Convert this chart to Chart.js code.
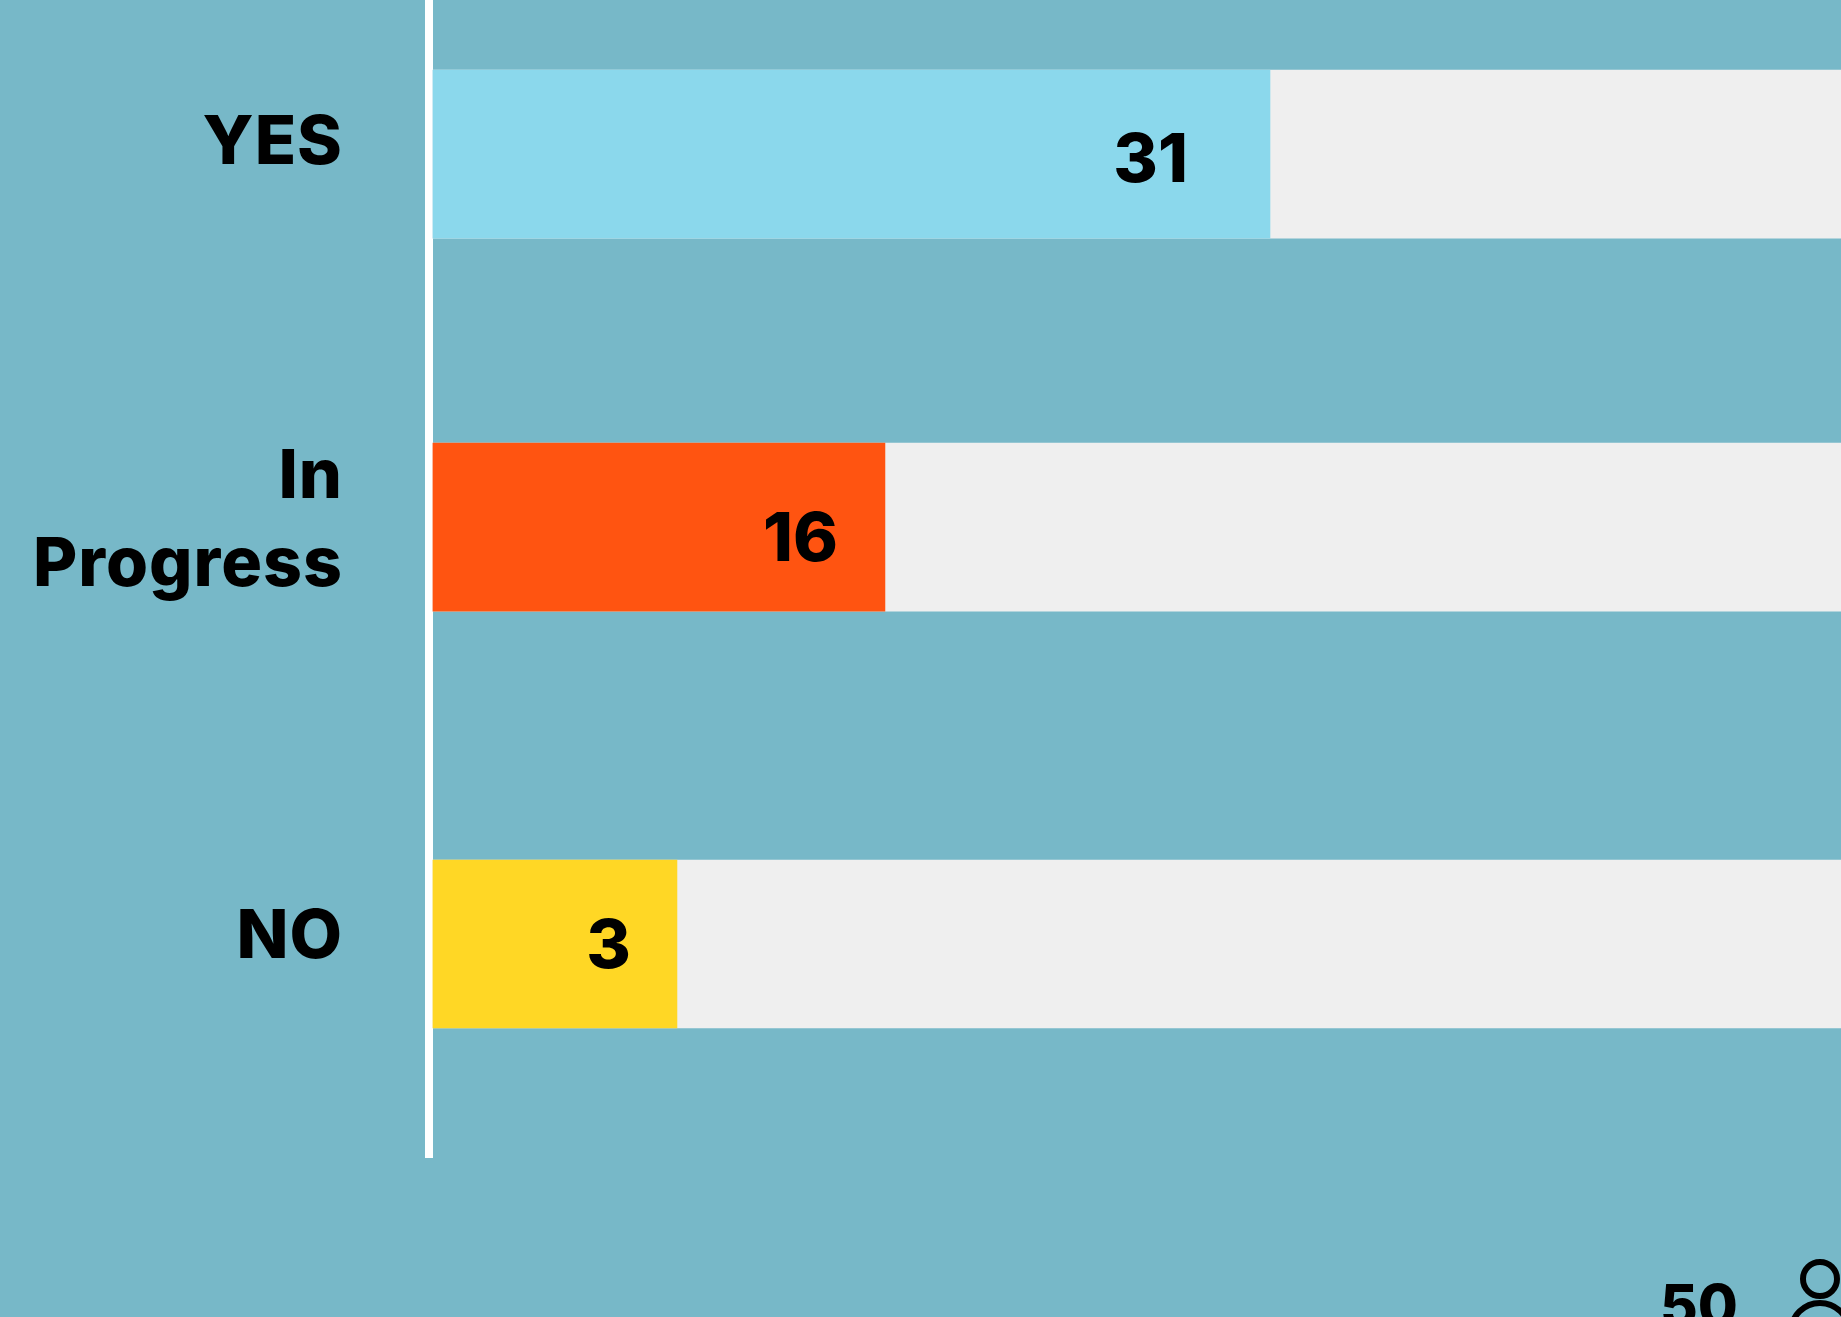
<!DOCTYPE html>
<html>
<head>
<meta charset="utf-8">
<title>Survey answers</title>
<script src="https://cdn.jsdelivr.net/npm/chart.js@4/dist/chart.umd.js"></script>
<style>
  body { margin: 0; background: #77b8c8; overflow: hidden; }
  canvas { display: block; }
</style>
</head>
<body>
<canvas id="myChart" width="1841" height="1317"></canvas>
<script>
const categories = ['YES', ['In', 'Progress'], 'NO'];
const answers = [31, 16, 3];
const total = 50;
const barColors = ['#8bd8ec', '#ff5411', '#ffd725'];
// the rows are not evenly spaced in the original
const rowPositions = [0.421, 1.44, 2.579];
const tickPositions = [0.408, 1.44, 2.579];
// the original isn't drawn to scale either, so the axis bends at these values
const scaleStops = [0, 3, 16, 31, 50];
const stopFractions = [0.0028, 0.1756, 0.3229, 0.5956, 1];
const valueLabelInset = [82, 47, 46];
const valueLabelShift = [7, 13, 4];

const labelFont = '800 68px Inter';
const totalFont = '800 58px Inter';

class BentScale extends Chart.LinearScale {
  getPixelForValue(value) {
    let i = 1;
    while (i < scaleStops.length - 1 && value > scaleStops[i]) i++;
    const t = (value - scaleStops[i - 1]) / (scaleStops[i] - scaleStops[i - 1]);
    const f = stopFractions[i - 1] + t * (stopFractions[i] - stopFractions[i - 1]);
    return this.left + f * this.width;
  }
}
BentScale.id = 'bent';
BentScale.defaults = {};
Chart.register(BentScale);

const annotate = {
  id: 'annotate',
  beforeDraw(chart) {
    chart.ctx.letterSpacing = '1px';
  },
  afterDatasetsDraw(chart) {
    const ctx = chart.ctx;
    const x = chart.scales.x;
    const y = chart.scales.y;
    ctx.save();
    ctx.letterSpacing = '0px';
    ctx.fillStyle = '#000';
    ctx.font = labelFont;
    ctx.textAlign = 'right';
    ctx.textBaseline = 'middle';
    answers.forEach((v, i) => {
      ctx.fillText(v, x.getPixelForValue(v) - valueLabelInset[i], y.getPixelForValue(rowPositions[i]) + valueLabelShift[i]);
    });
    // total, with the person icon, runs off the bottom of the picture
    ctx.textAlign = 'left';
    ctx.textBaseline = 'alphabetic';
    ctx.font = totalFont;
    ctx.fillText(total, 1660, 1326);
    ctx.strokeStyle = '#000';
    ctx.lineWidth = 6;
    ctx.beginPath();
    ctx.arc(1820, 1279, 17, 0, Math.PI * 2);
    ctx.stroke();
    ctx.beginPath();
    ctx.arc(1820, 1332, 29, 0, Math.PI * 2);
    ctx.stroke();
    ctx.restore();
  }
};

new Chart(document.getElementById('myChart').getContext('2d'), {
  type: 'bar',
  data: {
    datasets: [{
      data: answers.map((v, i) => ({ x: v, y: rowPositions[i] })),
      backgroundColor: barColors,
      barThickness: 168,
      grouped: false,
      order: 1
    }, {
      data: answers.map((v, i) => ({ x: total, y: rowPositions[i] })),
      backgroundColor: '#efefef',
      barThickness: 168,
      grouped: false,
      order: 2
    }]
  },
  options: {
    indexAxis: 'y',
    responsive: false,
    animation: false,
    layout: { padding: { bottom: 160 } },
    plugins: {
      legend: { display: false },
      tooltip: { enabled: false }
    },
    scales: {
      x: {
        type: 'bent',
        min: 0,
        max: total,
        display: false
      },
      y: {
        type: 'linear',
        reverse: true,
        offset: false,
        min: 0,
        max: 3.161,
        afterBuildTicks: (scale) => {
          scale.ticks = tickPositions.map((value) => ({ value }));
        },
        afterFit: (scale) => {
          scale.width = 429;
          scale.paddingTop = 0;
          scale.paddingBottom = 0;
        },
        grid: { display: false, drawTicks: false },
        border: { display: true, color: '#fff', width: 8 },
        ticks: {
          autoSkip: false,
          color: '#000',
          padding: 86,
          labelOffset: -6,
          font: { family: 'Inter', size: 68, weight: '800', lineHeight: 88 / 68 },
          callback: (value, index) => categories[index]
        }
      }
    }
  },
  plugins: [annotate]
});
</script>
</body>
</html>
